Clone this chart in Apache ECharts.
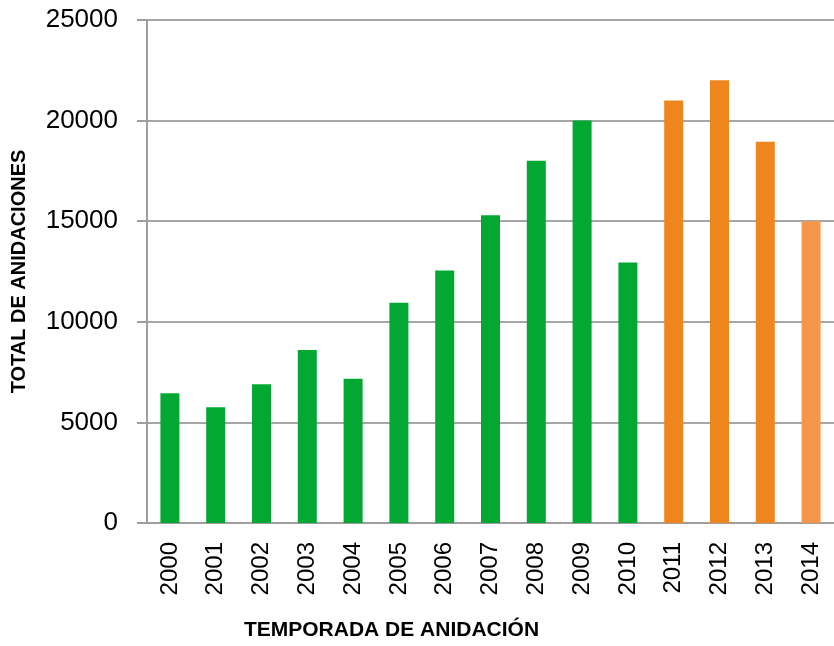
<!DOCTYPE html>
<html>
<head>
    <meta charset="UTF-8">
    <title>Anidaciones</title>
    <script src="https://cdn.jsdelivr.net/npm/echarts@6/dist/echarts.min.js"></script>
    <style>
        html, body { margin: 0; padding: 0; background: #fff; }
        #main { width: 834px; height: 646px; }
    </style>
</head>
<body>
<div id="main"></div>
<script type="text/javascript">
    // temporadas y total de anidaciones
    var years = ['2000', '2001', '2002', '2003', '2004', '2005', '2006', '2007',
                 '2008', '2009', '2010', '2011', '2012', '2013', '2014'];
    var nests = [6450, 5750, 6900, 8600, 7170, 10950, 12550, 15300,
                 18000, 20000, 12950, 21000, 22000, 18950, 15000];
    var yTicks = [0, 5000, 10000, 15000, 20000, 25000];

    function barColor(year) {
        var y = parseInt(year, 10);
        if (y <= 2010) return '#03A832';
        if (y <= 2013) return '#EE851F';
        return '#F6964A';
    }

    var myChart = echarts.init(document.getElementById('main'));

    var option = {
        animation: false,
        grid: { left: 147, top: 20, width: 700, height: 505 },
        xAxis: {
            type: 'category',
            data: years,
            name: 'TEMPORADA DE ANIDACIÓN',
            nameLocation: 'middle',
            nameGap: 97,
            nameTextStyle: {
                fontFamily: 'Liberation Sans', fontWeight: 'bold', fontSize: 21,
                color: '#000', padding: [0, 198, 0, 0]
            },
            axisLine: { lineStyle: { color: '#9E9E9E', width: 2 } },
            axisTick: { alignWithLabel: false, length: 8, lineStyle: { color: '#9E9E9E', width: 2 } },
            axisLabel: {
                rotate: 90, margin: 19, fontFamily: 'Liberation Sans', fontSize: 24, color: '#000'
            }
        },
        yAxis: {
            type: 'value',
            min: yTicks[0],
            max: yTicks[yTicks.length - 1],
            interval: yTicks[1] - yTicks[0],
            name: 'TOTAL DE ANIDACIONES',
            nameLocation: 'middle',
            nameGap: 118,
            nameTextStyle: {
                fontFamily: 'Liberation Sans', fontWeight: 'bold', fontSize: 20, color: '#000'
            },
            axisLine: { show: true, lineStyle: { color: '#9E9E9E', width: 2 } },
            axisTick: { show: true, length: 10, lineStyle: { color: '#9E9E9E', width: 2 } },
            axisLabel: {
                margin: 29, fontFamily: 'Liberation Sans', fontSize: 26, color: '#000',
                formatter: function (v) { return String(v); }
            },
            splitLine: { lineStyle: { color: '#A6A6A6', width: 2 } }
        },
        series: [{
            type: 'bar',
            barWidth: 19,
            data: nests.map(function (v, i) {
                return { value: v, itemStyle: { color: barColor(years[i]) } };
            })
        }]
    };

    myChart.setOption(option);
</script>
</body>
</html>
